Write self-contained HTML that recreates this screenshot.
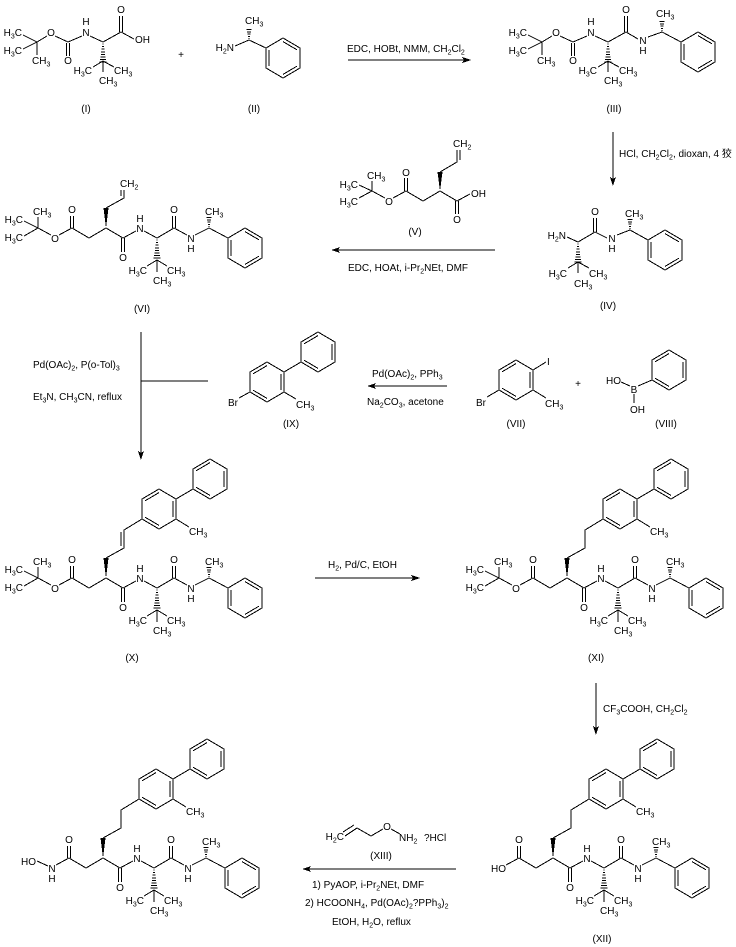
<!DOCTYPE html>
<html><head><meta charset="utf-8"><style>
html,body{margin:0;padding:0;background:#fff}
svg{display:block;background:#fff}
path,line,polygon{stroke:#000;stroke-width:1;fill:none;shape-rendering:crispEdges}
.f{fill:#000;stroke:none}
text{font-family:"Liberation Sans","Noto Sans CJK SC",Arial,sans-serif;font-size:10px;fill:#000}
.c{text-anchor:middle}.e{text-anchor:end}
.s{font-size:7px}
</style></head><body>
<svg width="736" height="947" viewBox="0 0 736 947" xmlns="http://www.w3.org/2000/svg">

<!-- ========== Compound I ========== -->
<path d="M23 35L37 42L23 49M37 42V55M37 42L47 36M55 36L68 42L82 36M90 36L103 42L121 32L134 39M66.5 43V56M69.5 43V56M119.5 32V16M122.5 32V16M103 61L93 67M103 61L114 67M103 61V72"/>
<path transform="translate(103,42)" d="M-.6 2h1.2M-1 4.6h2M-1.4 7.2h2.8M-1.8 9.8h3.6M-2.2 12.4h4.4M-2.6 15h5.2M-3 17.6h6M-3.4 20.2h6.8"/>
<text class="e" x="22" y="36">H<tspan class="s" dy="2.5">3</tspan><tspan dy="-2.5">C</tspan></text>
<text class="e" x="22" y="54">H<tspan class="s" dy="2.5">3</tspan><tspan dy="-2.5">C</tspan></text>
<text x="32" y="64">CH<tspan class="s" dy="2.5">3</tspan></text>
<text class="c" x="51" y="36">O</text>
<text class="c" x="86" y="25">H</text>
<text class="c" x="86" y="36">N</text>
<text class="c" x="68" y="64">O</text>
<text class="c" x="121" y="13">O</text>
<text x="135" y="43">OH</text>
<text class="e" x="92" y="74">H<tspan class="s" dy="2.5">3</tspan><tspan dy="-2.5">C</tspan></text>
<text x="114" y="74">CH<tspan class="s" dy="2.5">3</tspan></text>
<text x="99" y="84">CH<tspan class="s" dy="2.5">3</tspan></text>
<text class="c" x="86" y="112">(I)</text>
<text class="c" x="181" y="58">+</text>

<!-- ========== Compound II ========== -->
<path d="M235 46L249 40L266 48"/>
<path transform="translate(249,40)" d="M-.6 -1.5h1.2M-1.1 -3.7h2.2M-1.6 -5.9h3.2M-2.1 -8.1h4.2M-2.6 -10.3h5.2"/>
<g transform="translate(283,58)"><polygon points="-17,-10 0,-20 17,-10 17,10 0,20 -17,10"/><path d="M0 -16.4L13.9 -8.2M-13.9 -8.2V8.2M0 16.4L13.9 8.2"/></g>
<text x="245" y="24">CH<tspan class="s" dy="2.5">3</tspan></text>
<text class="e" x="234" y="51">H<tspan class="s" dy="2.5">2</tspan><tspan dy="-2.5">N</tspan></text>
<text class="c" x="254" y="112">(II)</text>

<!-- Arrow 1 -->
<path d="M348 60H464"/>
<polygon class="f" points="471,60 462,57 464,60 462,63"/>
<text x="347" y="52">EDC, HOBt, NMM, CH<tspan class="s" dy="2.5">2</tspan><tspan dy="-2.5">Cl</tspan><tspan class="s" dy="2.5">2</tspan></text>

<!-- ========== Compound III ========== -->
<path d="M528 35L542 42L528 49M542 42V55M542 42L552 36M560 36L573 42L587 36M595 36L608 42L626 32L638 39M648 37L662 32L681 42M571.5 43V56M574.5 43V56M624.5 32V16M627.5 32V16M608 61L598 67M608 61L619 67M608 61V72"/>
<path transform="translate(608,42)" d="M-.6 2h1.2M-1 4.6h2M-1.4 7.2h2.8M-1.8 9.8h3.6M-2.2 12.4h4.4M-2.6 15h5.2M-3 17.6h6M-3.4 20.2h6.8"/>
<path transform="translate(662,32)" d="M-.6 -1.5h1.2M-1.1 -3.7h2.2M-1.6 -5.9h3.2M-2.1 -8.1h4.2M-2.6 -10.3h5.2"/>
<g transform="translate(698,52)"><polygon points="-17,-10 0,-20 17,-10 17,10 0,20 -17,10"/><path d="M0 -16.4L13.9 -8.2M-13.9 -8.2V8.2M0 16.4L13.9 8.2"/></g>
<text class="e" x="527" y="36">H<tspan class="s" dy="2.5">3</tspan><tspan dy="-2.5">C</tspan></text>
<text class="e" x="527" y="54">H<tspan class="s" dy="2.5">3</tspan><tspan dy="-2.5">C</tspan></text>
<text x="537" y="64">CH<tspan class="s" dy="2.5">3</tspan></text>
<text class="c" x="556" y="36">O</text>
<text class="c" x="591" y="25">H</text>
<text class="c" x="591" y="36">N</text>
<text class="c" x="573" y="64">O</text>
<text class="c" x="626" y="13">O</text>
<text class="c" x="643" y="44">N</text>
<text class="c" x="643" y="54">H</text>
<text x="656" y="17">CH<tspan class="s" dy="2.5">3</tspan></text>
<text class="e" x="597" y="74">H<tspan class="s" dy="2.5">3</tspan><tspan dy="-2.5">C</tspan></text>
<text x="619" y="74">CH<tspan class="s" dy="2.5">3</tspan></text>
<text x="604" y="84">CH<tspan class="s" dy="2.5">3</tspan></text>
<text class="c" x="614" y="112">(III)</text>

<!-- Arrow 2 (III -> IV) -->
<path d="M613 132V179"/>
<polygon class="f" points="613,186 610,177 613,179 616,177"/>
<text x="619" y="157">HCl, CH<tspan class="s" dy="2.5">2</tspan><tspan dy="-2.5">Cl</tspan><tspan class="s" dy="2.5">2</tspan><tspan dy="-2.5">, dioxan, 4 狡</tspan></text>

<!-- ========== Compound IV ========== -->
<path d="M567 237L578 242L595 232L607 238M617 235L630 230L648 240M593.5 232V218M596.5 232V218M578 262L568 268M578 262L589 268M578 262V273"/>
<path transform="translate(578,242)" d="M-.6 2h1.2M-1 4.6h2M-1.4 7.2h2.8M-1.8 9.8h3.6M-2.2 12.4h4.4M-2.6 15h5.2M-3 17.6h6M-3.4 20.2h6.8"/>
<path transform="translate(630,230)" d="M-.6 -1.5h1.2M-1.1 -3.7h2.2M-1.6 -5.9h3.2M-2.1 -8.1h4.2M-2.6 -10.3h5.2"/>
<g transform="translate(665,250)"><polygon points="-17,-10 0,-20 17,-10 17,10 0,20 -17,10"/><path d="M0 -16.4L13.9 -8.2M-13.9 -8.2V8.2M0 16.4L13.9 8.2"/></g>
<text class="e" x="566" y="239">H<tspan class="s" dy="2.5">2</tspan><tspan dy="-2.5">N</tspan></text>
<text class="c" x="595" y="215">O</text>
<text class="c" x="612" y="242">N</text>
<text class="c" x="612" y="252">H</text>
<text x="625" y="217">CH<tspan class="s" dy="2.5">3</tspan></text>
<text class="e" x="567" y="277">H<tspan class="s" dy="2.5">3</tspan><tspan dy="-2.5">C</tspan></text>
<text x="589" y="277">CH<tspan class="s" dy="2.5">3</tspan></text>
<text x="574" y="287">CH<tspan class="s" dy="2.5">3</tspan></text>
<text class="c" x="608" y="309">(IV)</text>

<!-- ========== Compound V ========== -->
<path d="M359 185L372 191L359 198M372 191V181M372 191L385 198M393 198L406 191L423 201L440 191L457 201L470 194M404.5 191V178M407.5 191V178M455.5 201V214M458.5 201V214M440 172L457 162V150M460 160V150"/>
<polygon class="f" points="440,191 437.5,172 442.5,172"/>
<text x="367" y="179">CH<tspan class="s" dy="2.5">3</tspan></text>
<text class="e" x="358" y="188">H<tspan class="s" dy="2.5">3</tspan><tspan dy="-2.5">C</tspan></text>
<text class="e" x="358" y="205">H<tspan class="s" dy="2.5">3</tspan><tspan dy="-2.5">C</tspan></text>
<text class="c" x="389" y="205">O</text>
<text class="c" x="406" y="176">O</text>
<text x="453" y="147">CH<tspan class="s" dy="2.5">2</tspan></text>
<text class="c" x="457" y="223">O</text>
<text x="471" y="197">OH</text>
<text class="c" x="415" y="235">(V)</text>

<!-- Arrow 3 -->
<path d="M338 250H495"/>
<polygon class="f" points="331,250 340,247 338,250 340,253"/>
<text x="348" y="271">EDC, HOAt, i-Pr<tspan class="s" dy="2.5">2</tspan><tspan dy="-2.5">NEt, DMF</tspan></text>

<!-- ========== Compound VI ========== -->
<g transform="translate(0,-350)">
<path d="M24 571L38 578L24 586M38 578V567M38 578L51 585M59 585L72 578"/>
<text class="e" x="23" y="573">H<tspan class="s" dy="2.5">3</tspan><tspan dy="-2.5">C</tspan></text>
<text class="e" x="23" y="591">H<tspan class="s" dy="2.5">3</tspan><tspan dy="-2.5">C</tspan></text>
<text x="33" y="565">CH<tspan class="s" dy="2.5">3</tspan></text>
<text class="c" x="55" y="592">O</text>
<path d="M72 578L89 588L106 578L123 588L136 581M144 581L157 588L174 578L187 585M195 585L209 578L228 588M70.5 578V566M73.5 578V566M121.5 588V602M124.5 588V602M172.5 578V566M175.5 578V566M157 610L147 616M157 610L167 616M157 610V622"/>
<path transform="translate(157,588)" d="M-.6 2h1.2M-1 4.6h2M-1.4 7.2h2.8M-1.8 9.8h3.6M-2.2 12.4h4.4M-2.6 15h5.2M-3 17.6h6M-3.4 20.2h6.8"/>
<path transform="translate(209,578)" d="M-.6 -1.5h1.2M-1.1 -3.7h2.2M-1.6 -5.9h3.2M-2.1 -8.1h4.2M-2.6 -10.3h5.2"/>
<polygon class="f" points="106,578 103.5,558 108.5,558"/>
<g transform="translate(245,598)"><polygon points="-17,-10 0,-20 17,-10 17,10 0,20 -17,10"/><path d="M0 -16.4L13.9 -8.2M-13.9 -8.2V8.2M0 16.4L13.9 8.2"/></g>
<text class="c" x="72" y="563">O</text>
<text class="c" x="123" y="611">O</text>
<text class="c" x="140" y="572">H</text>
<text class="c" x="140" y="582">N</text>
<text class="c" x="174" y="563">O</text>
<text class="c" x="191" y="592">N</text>
<text class="c" x="191" y="602">H</text>
<text x="205" y="565">CH<tspan class="s" dy="2.5">3</tspan></text>
<text class="e" x="147" y="624">H<tspan class="s" dy="2.5">3</tspan><tspan dy="-2.5">C</tspan></text>
<text x="167" y="624">CH<tspan class="s" dy="2.5">3</tspan></text>
<text x="153" y="634">CH<tspan class="s" dy="2.5">3</tspan></text>
<path d="M106 558L124 548V540M121 546V540"/>
<text x="120" y="537">CH<tspan class="s" dy="2.5">2</tspan></text>
</g>
<text class="c" x="142" y="312">(VI)</text>

<!-- Heck arrow -->
<path d="M141 332V453M141 381H208"/>
<polygon class="f" points="141,460 138,451 141,453 144,451"/>
<text x="33" y="368">Pd(OAc)<tspan class="s" dy="2.5">2</tspan><tspan dy="-2.5">, P(o-Tol)</tspan><tspan class="s" dy="2.5">3</tspan></text>
<text x="33" y="400">Et<tspan class="s" dy="2.5">3</tspan><tspan dy="-2.5">N, CH</tspan><tspan class="s" dy="2.5">3</tspan><tspan dy="-2.5">CN, reflux</tspan></text>

<!-- ========== Compound IX ========== -->
<g transform="translate(267,382)"><polygon points="-17,-10 0,-20 17,-10 17,10 0,20 -17,10"/><path d="M-13.9 -8.2L0 -16.4M13.9 -8.2V8.2M0 16.4L-13.9 8.2"/></g>
<g transform="translate(318,352)"><polygon points="-17,-10 0,-20 17,-10 17,10 0,20 -17,10"/><path d="M-13.9 -8.2L0 -16.4M13.9 -8.2V8.2M0 16.4L-13.9 8.2"/></g>
<path d="M284 372L301 362M284 392L296 399M250 392L239 398"/>
<text x="296" y="408">CH<tspan class="s" dy="2.5">3</tspan></text>
<text class="e" x="238" y="406">Br</text>
<text class="c" x="291" y="427">(IX)</text>

<!-- Arrow 4 -->
<path d="M374 386H447"/>
<polygon class="f" points="367,386 376,383 374,386 376,389"/>
<text x="372" y="377">Pd(OAc)<tspan class="s" dy="2.5">2</tspan><tspan dy="-2.5">, PPh</tspan><tspan class="s" dy="2.5">3</tspan></text>
<text x="367" y="405">Na<tspan class="s" dy="2.5">2</tspan><tspan dy="-2.5">CO</tspan><tspan class="s" dy="2.5">3</tspan><tspan dy="-2.5">, acetone</tspan></text>

<!-- ========== Compound VII ========== -->
<g transform="translate(516,380)"><polygon points="-17,-10 0,-20 17,-10 17,10 0,20 -17,10"/><path d="M-13.9 -8.2L0 -16.4M13.9 -8.2V8.2M0 16.4L-13.9 8.2"/></g>
<path d="M533 370L546 362M533 390L546 398M499 390L487 397"/>
<text x="547" y="365">I</text>
<text x="545" y="407">CH<tspan class="s" dy="2.5">3</tspan></text>
<text class="e" x="486" y="406">Br</text>
<text class="c" x="578" y="387">+</text>
<text class="c" x="516" y="427">(VII)</text>

<!-- ========== Compound VIII ========== -->
<path d="M621 382L630 386M634 394V403M638 386L652 380"/>
<g transform="translate(669,370)"><polygon points="-17,-10 0,-20 17,-10 17,10 0,20 -17,10"/><path d="M-13.9 -8.2L0 -16.4M13.9 -8.2V8.2M0 16.4L-13.9 8.2"/></g>
<text class="e" x="621" y="384">HO</text>
<text class="c" x="634" y="393">B</text>
<text x="630" y="413">OH</text>
<text class="c" x="666" y="427">(VIII)</text>

<!-- ========== Compound X ========== -->
<g>
<path d="M24 571L38 578L24 586M38 578V567M38 578L51 585M59 585L72 578"/>
<text class="e" x="23" y="573">H<tspan class="s" dy="2.5">3</tspan><tspan dy="-2.5">C</tspan></text>
<text class="e" x="23" y="591">H<tspan class="s" dy="2.5">3</tspan><tspan dy="-2.5">C</tspan></text>
<text x="33" y="565">CH<tspan class="s" dy="2.5">3</tspan></text>
<text class="c" x="55" y="592">O</text>
<path d="M72 578L89 588L106 578L123 588L136 581M144 581L157 588L174 578L187 585M195 585L209 578L228 588M70.5 578V566M73.5 578V566M121.5 588V602M124.5 588V602M172.5 578V566M175.5 578V566M157 610L147 616M157 610L167 616M157 610V622"/>
<path transform="translate(157,588)" d="M-.6 2h1.2M-1 4.6h2M-1.4 7.2h2.8M-1.8 9.8h3.6M-2.2 12.4h4.4M-2.6 15h5.2M-3 17.6h6M-3.4 20.2h6.8"/>
<path transform="translate(209,578)" d="M-.6 -1.5h1.2M-1.1 -3.7h2.2M-1.6 -5.9h3.2M-2.1 -8.1h4.2M-2.6 -10.3h5.2"/>
<polygon class="f" points="106,578 103.5,558 108.5,558"/>
<g transform="translate(245,598)"><polygon points="-17,-10 0,-20 17,-10 17,10 0,20 -17,10"/><path d="M0 -16.4L13.9 -8.2M-13.9 -8.2V8.2M0 16.4L13.9 8.2"/></g>
<text class="c" x="72" y="563">O</text>
<text class="c" x="123" y="611">O</text>
<text class="c" x="140" y="572">H</text>
<text class="c" x="140" y="582">N</text>
<text class="c" x="174" y="563">O</text>
<text class="c" x="191" y="592">N</text>
<text class="c" x="191" y="602">H</text>
<text x="205" y="565">CH<tspan class="s" dy="2.5">3</tspan></text>
<text class="e" x="147" y="624">H<tspan class="s" dy="2.5">3</tspan><tspan dy="-2.5">C</tspan></text>
<text x="167" y="624">CH<tspan class="s" dy="2.5">3</tspan></text>
<text x="153" y="634">CH<tspan class="s" dy="2.5">3</tspan></text>
<path d="M106 558L124 548V530L142 519M176 499L193 489M176 519L189 527M121 546V532"/>
<g transform="translate(159,509)"><polygon points="-17,-10 0,-20 17,-10 17,10 0,20 -17,10"/><path d="M-13.9 -8.2L0 -16.4M13.9 -8.2V8.2M0 16.4L-13.9 8.2"/></g>
<g transform="translate(210,479)"><polygon points="-17,-10 0,-20 17,-10 17,10 0,20 -17,10"/><path d="M-13.9 -8.2L0 -16.4M13.9 -8.2V8.2M0 16.4L-13.9 8.2"/></g>
<text x="189" y="535">CH<tspan class="s" dy="2.5">3</tspan></text>
</g>
<text class="c" x="132" y="661">(X)</text>

<!-- Arrow 5 -->
<path d="M315 578H413"/>
<polygon class="f" points="420,578 411,575 413,578 411,581"/>
<text x="328" y="568">H<tspan class="s" dy="2.5">2</tspan><tspan dy="-2.5">, Pd/C, EtOH</tspan></text>

<!-- ========== Compound XI ========== -->
<g transform="translate(461,0)">
<path d="M24 571L38 578L24 586M38 578V567M38 578L51 585M59 585L72 578"/>
<text class="e" x="23" y="573">H<tspan class="s" dy="2.5">3</tspan><tspan dy="-2.5">C</tspan></text>
<text class="e" x="23" y="591">H<tspan class="s" dy="2.5">3</tspan><tspan dy="-2.5">C</tspan></text>
<text x="33" y="565">CH<tspan class="s" dy="2.5">3</tspan></text>
<text class="c" x="55" y="592">O</text>
<path d="M72 578L89 588L106 578L123 588L136 581M144 581L157 588L174 578L187 585M195 585L209 578L228 588M70.5 578V566M73.5 578V566M121.5 588V602M124.5 588V602M172.5 578V566M175.5 578V566M157 610L147 616M157 610L167 616M157 610V622"/>
<path transform="translate(157,588)" d="M-.6 2h1.2M-1 4.6h2M-1.4 7.2h2.8M-1.8 9.8h3.6M-2.2 12.4h4.4M-2.6 15h5.2M-3 17.6h6M-3.4 20.2h6.8"/>
<path transform="translate(209,578)" d="M-.6 -1.5h1.2M-1.1 -3.7h2.2M-1.6 -5.9h3.2M-2.1 -8.1h4.2M-2.6 -10.3h5.2"/>
<polygon class="f" points="106,578 103.5,558 108.5,558"/>
<g transform="translate(245,598)"><polygon points="-17,-10 0,-20 17,-10 17,10 0,20 -17,10"/><path d="M0 -16.4L13.9 -8.2M-13.9 -8.2V8.2M0 16.4L13.9 8.2"/></g>
<text class="c" x="72" y="563">O</text>
<text class="c" x="123" y="611">O</text>
<text class="c" x="140" y="572">H</text>
<text class="c" x="140" y="582">N</text>
<text class="c" x="174" y="563">O</text>
<text class="c" x="191" y="592">N</text>
<text class="c" x="191" y="602">H</text>
<text x="205" y="565">CH<tspan class="s" dy="2.5">3</tspan></text>
<text class="e" x="147" y="624">H<tspan class="s" dy="2.5">3</tspan><tspan dy="-2.5">C</tspan></text>
<text x="167" y="624">CH<tspan class="s" dy="2.5">3</tspan></text>
<text x="153" y="634">CH<tspan class="s" dy="2.5">3</tspan></text>
<path d="M106 558L124 548V530L142 519M176 499L193 489M176 519L189 527"/>
<g transform="translate(159,509)"><polygon points="-17,-10 0,-20 17,-10 17,10 0,20 -17,10"/><path d="M-13.9 -8.2L0 -16.4M13.9 -8.2V8.2M0 16.4L-13.9 8.2"/></g>
<g transform="translate(210,479)"><polygon points="-17,-10 0,-20 17,-10 17,10 0,20 -17,10"/><path d="M-13.9 -8.2L0 -16.4M13.9 -8.2V8.2M0 16.4L-13.9 8.2"/></g>
<text x="189" y="535">CH<tspan class="s" dy="2.5">3</tspan></text>
</g>
<text class="c" x="596" y="661">(XI)</text>

<!-- Arrow XI -> XII -->
<path d="M596 683V728"/>
<polygon class="f" points="596,735 593,726 596,728 599,726"/>
<text x="603" y="712">CF<tspan class="s" dy="2.5">3</tspan><tspan dy="-2.5">COOH, CH</tspan><tspan class="s" dy="2.5">2</tspan><tspan dy="-2.5">Cl</tspan><tspan class="s" dy="2.5">2</tspan></text>

<!-- ========== Compound XII ========== -->
<g transform="translate(447,280)">
<path d="M59 585L72 578"/>
<text class="e" x="59" y="592">HO</text>
<path d="M72 578L89 588L106 578L123 588L136 581M144 581L157 588L174 578L187 585M195 585L209 578L228 588M70.5 578V566M73.5 578V566M121.5 588V602M124.5 588V602M172.5 578V566M175.5 578V566M157 610L147 616M157 610L167 616M157 610V622"/>
<path transform="translate(157,588)" d="M-.6 2h1.2M-1 4.6h2M-1.4 7.2h2.8M-1.8 9.8h3.6M-2.2 12.4h4.4M-2.6 15h5.2M-3 17.6h6M-3.4 20.2h6.8"/>
<path transform="translate(209,578)" d="M-.6 -1.5h1.2M-1.1 -3.7h2.2M-1.6 -5.9h3.2M-2.1 -8.1h4.2M-2.6 -10.3h5.2"/>
<polygon class="f" points="106,578 103.5,558 108.5,558"/>
<g transform="translate(245,598)"><polygon points="-17,-10 0,-20 17,-10 17,10 0,20 -17,10"/><path d="M0 -16.4L13.9 -8.2M-13.9 -8.2V8.2M0 16.4L13.9 8.2"/></g>
<text class="c" x="72" y="563">O</text>
<text class="c" x="123" y="611">O</text>
<text class="c" x="140" y="572">H</text>
<text class="c" x="140" y="582">N</text>
<text class="c" x="174" y="563">O</text>
<text class="c" x="191" y="592">N</text>
<text class="c" x="191" y="602">H</text>
<text x="205" y="565">CH<tspan class="s" dy="2.5">3</tspan></text>
<text class="e" x="147" y="624">H<tspan class="s" dy="2.5">3</tspan><tspan dy="-2.5">C</tspan></text>
<text x="167" y="624">CH<tspan class="s" dy="2.5">3</tspan></text>
<text x="153" y="634">CH<tspan class="s" dy="2.5">3</tspan></text>
<path d="M106 558L124 548V530L142 519M176 499L193 489M176 519L189 527"/>
<g transform="translate(159,509)"><polygon points="-17,-10 0,-20 17,-10 17,10 0,20 -17,10"/><path d="M-13.9 -8.2L0 -16.4M13.9 -8.2V8.2M0 16.4L-13.9 8.2"/></g>
<g transform="translate(210,479)"><polygon points="-17,-10 0,-20 17,-10 17,10 0,20 -17,10"/><path d="M-13.9 -8.2L0 -16.4M13.9 -8.2V8.2M0 16.4L-13.9 8.2"/></g>
<text x="189" y="535">CH<tspan class="s" dy="2.5">3</tspan></text>
</g>
<text class="c" x="602" y="942">(XII)</text>

<!-- Arrow XII -> final, with XIII -->
<path d="M309 869H456"/>
<polygon class="f" points="302,869 311,866 309,869 311,872"/>
<path d="M345 836L357 828M343 832L354 825M357 828L371 836L383 829M391 829L400 834"/>
<text class="e" x="344" y="840">H<tspan class="s" dy="2.5">2</tspan><tspan dy="-2.5">C</tspan></text>
<text class="c" x="387" y="830">O</text>
<text x="399" y="841">NH<tspan class="s" dy="2.5">2</tspan></text>
<text x="424" y="841">?HCl</text>
<text class="c" x="381" y="859">(XIII)</text>
<text x="312" y="888">1) PyAOP, i-Pr<tspan class="s" dy="2.5">2</tspan><tspan dy="-2.5">NEt, DMF</tspan></text>
<text x="305" y="906">2) HCOONH<tspan class="s" dy="2.5">4</tspan><tspan dy="-2.5">, Pd(OAc)</tspan><tspan class="s" dy="2.5">2</tspan><tspan dy="-2.5">?PPh</tspan><tspan class="s" dy="2.5">3</tspan><tspan dy="-2.5">)</tspan><tspan class="s" dy="2.5">2</tspan></text>
<text x="332" y="925">EtOH, H<tspan class="s" dy="2.5">2</tspan><tspan dy="-2.5">O, reflux</tspan></text>

<!-- ========== Final compound ========== -->
<g transform="translate(-3,280)">
<path d="M40 581L51 586M59 585L72 578"/>
<text class="e" x="39" y="585">HO</text>
<text class="c" x="55" y="592">N</text>
<text class="c" x="55" y="602">H</text>
<path d="M72 578L89 588L106 578L123 588L136 581M144 581L157 588L174 578L187 585M195 585L209 578L228 588M70.5 578V566M73.5 578V566M121.5 588V602M124.5 588V602M172.5 578V566M175.5 578V566M157 610L147 616M157 610L167 616M157 610V622"/>
<path transform="translate(157,588)" d="M-.6 2h1.2M-1 4.6h2M-1.4 7.2h2.8M-1.8 9.8h3.6M-2.2 12.4h4.4M-2.6 15h5.2M-3 17.6h6M-3.4 20.2h6.8"/>
<path transform="translate(209,578)" d="M-.6 -1.5h1.2M-1.1 -3.7h2.2M-1.6 -5.9h3.2M-2.1 -8.1h4.2M-2.6 -10.3h5.2"/>
<polygon class="f" points="106,578 103.5,558 108.5,558"/>
<g transform="translate(245,598)"><polygon points="-17,-10 0,-20 17,-10 17,10 0,20 -17,10"/><path d="M0 -16.4L13.9 -8.2M-13.9 -8.2V8.2M0 16.4L13.9 8.2"/></g>
<text class="c" x="72" y="563">O</text>
<text class="c" x="123" y="611">O</text>
<text class="c" x="140" y="572">H</text>
<text class="c" x="140" y="582">N</text>
<text class="c" x="174" y="563">O</text>
<text class="c" x="191" y="592">N</text>
<text class="c" x="191" y="602">H</text>
<text x="205" y="565">CH<tspan class="s" dy="2.5">3</tspan></text>
<text class="e" x="147" y="624">H<tspan class="s" dy="2.5">3</tspan><tspan dy="-2.5">C</tspan></text>
<text x="167" y="624">CH<tspan class="s" dy="2.5">3</tspan></text>
<text x="153" y="634">CH<tspan class="s" dy="2.5">3</tspan></text>
<path d="M106 558L124 548V530L142 519M176 499L193 489M176 519L189 527"/>
<g transform="translate(159,509)"><polygon points="-17,-10 0,-20 17,-10 17,10 0,20 -17,10"/><path d="M-13.9 -8.2L0 -16.4M13.9 -8.2V8.2M0 16.4L-13.9 8.2"/></g>
<g transform="translate(210,479)"><polygon points="-17,-10 0,-20 17,-10 17,10 0,20 -17,10"/><path d="M-13.9 -8.2L0 -16.4M13.9 -8.2V8.2M0 16.4L-13.9 8.2"/></g>
<text x="189" y="535">CH<tspan class="s" dy="2.5">3</tspan></text>
</g>

</svg>
</body></html>
